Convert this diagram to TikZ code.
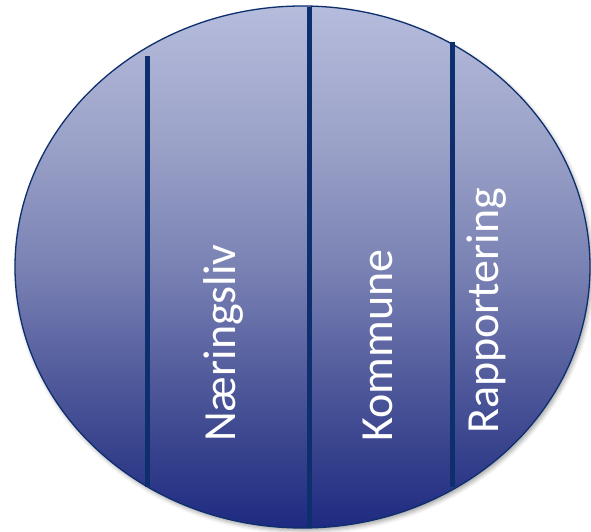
\documentclass[tikz,border=0pt]{standalone}
\usepackage{fontspec}
\setmainfont{Carlito}
\usetikzlibrary{shadows.blur}
\definecolor{rimblue}{RGB}{13,47,110}
\definecolor{sA}{RGB}{30,42,128}
\definecolor{sB}{RGB}{72,82,150}
\definecolor{sC}{RGB}{122,130,180}
\definecolor{sD}{RGB}{155,162,200}
\definecolor{sE}{RGB}{182,188,220}
\pgfdeclareverticalshading{ovalshade}{100bp}{color(0bp)=(sA); color(25bp)=(sA); color(37bp)=(sB); color(50bp)=(sC); color(62bp)=(sD); color(75bp)=(sE); color(100bp)=(sE)}
\tikzset{
  divider/.style={draw=rimblue, line width=5pt},
  label/.style={text=white, rotate=90, anchor=base west, inner sep=0pt, font=\fontsize{46}{50}\selectfont}
}
\begin{document}
\begin{tikzpicture}[x=1pt,y=1pt]
\useasboundingbox (0,0) rectangle (591,532);
\path[shading=ovalshade, draw=rimblue, line width=1.3pt,
  blur shadow={shadow xshift=2pt, shadow yshift=-3pt, shadow blur radius=4pt, shadow opacity=35}]
  (302.5,265) ellipse [x radius=287.5, y radius=261];
\coordinate (t1) at (147.5,476); \coordinate (b1) at (147.5,45);
\coordinate (t2) at (309,525);   \coordinate (b2) at (309,5);
\coordinate (t3) at (452,490);   \coordinate (b3) at (452,45);
\draw[divider] (t1) -- (b1);
\draw[divider] (t2) -- (b2);
\draw[divider] (t3) -- (b3);
\node[label] (n1) at (235,90) {Næringsliv};
\node[label] (n2) at (392,90) {Kommune};
\node[label] (n3) at (498,98) {Rapportering};
\end{tikzpicture}
\end{document}
